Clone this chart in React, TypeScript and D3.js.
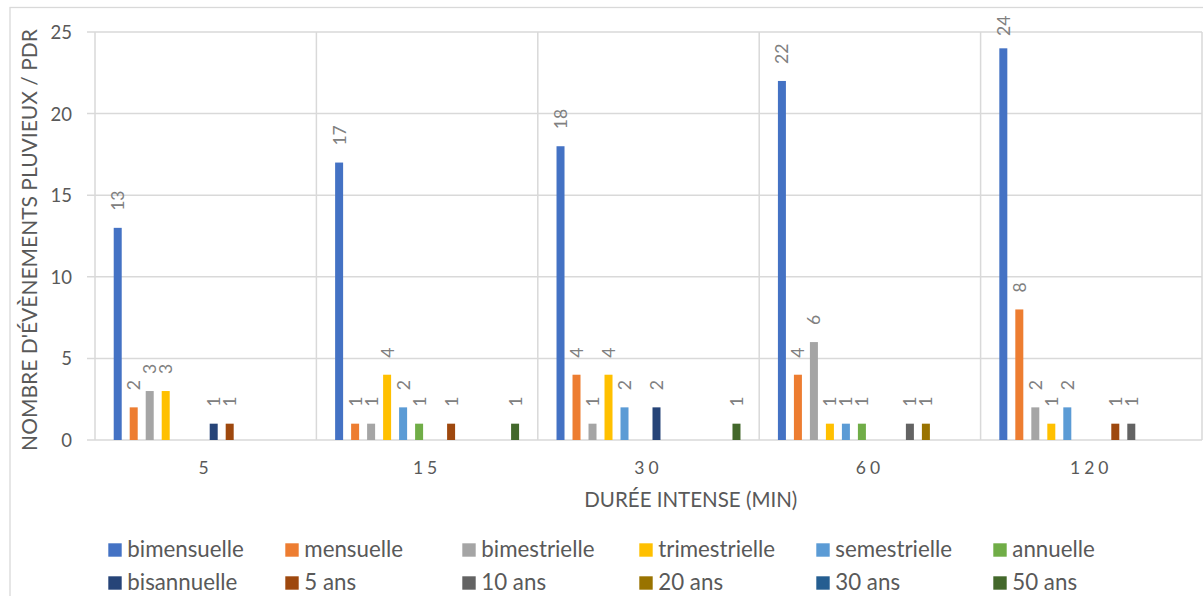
import React from "react";
import * as d3 from "d3";

const categories = ["5", "15", "30", "60", "120"];
const seriesNames = [
  "bimensuelle", "mensuelle", "bimestrielle", "trimestrielle", "semestrielle", "annuelle",
  "bisannuelle", "5 ans", "10 ans", "20 ans", "30 ans", "50 ans",
];
const seriesColors = [
  "#4472C4", "#ED7D31", "#A5A5A5", "#FFC000", "#5B9BD5", "#70AD47",
  "#264478", "#9E480E", "#636363", "#997300", "#255E91", "#43682B",
];
const bimensuelle = [13, 17, 18, 22, 24];
const mensuelle = [2, 1, 4, 4, 8];
const bimestrielle = [3, 1, 1, 6, 2];
const trimestrielle = [3, 4, 4, 1, 1];
const semestrielle = [0, 2, 2, 1, 2];
const annuelle = [0, 1, 0, 1, 0];
const bisannuelle = [1, 0, 2, 0, 0];
const ans5 = [1, 1, 0, 0, 1];
const ans10 = [0, 0, 0, 1, 1];
const ans20 = [0, 0, 0, 1, 0];
const ans30 = [0, 0, 0, 0, 0];
const ans50 = [0, 1, 1, 0, 0];
const seriesValues = [
  bimensuelle, mensuelle, bimestrielle, trimestrielle, semestrielle, annuelle,
  bisannuelle, ans5, ans10, ans20, ans30, ans50,
];
const yTicks = [0, 5, 10, 15, 20, 25];
const yTitle = "NOMBRE D'ÉVÈNEMENTS PLUVIEUX / PDR";
const xTitle = "DURÉE INTENSE (MIN)";

const W = 1203;
const H = 596;
const plot = { left: 95, right: 1202, top: 32, bottom: 440 };
const FONT = "Lato, 'Liberation Sans', sans-serif";
const GRID = "#d9d9d9";

export default function App() {
  const x0 = d3.scaleBand<string>().domain(categories).range([plot.left, plot.right]).padding(0);
  const x1 = d3
    .scaleBand<string>()
    .domain(seriesNames)
    .range([0, x0.bandwidth()])
    .paddingInner(0.5)
    .paddingOuter(1.17);
  const y = d3.scaleLinear().domain([0, 25]).range([plot.bottom, plot.top]);

  const groupEdges = categories.map((c) => x0(c) as number).concat([plot.right]);

  const legendCols = [108.3, 285.3, 462.3, 639.3, 816.3, 993.3];
  const legendRows = [550, 583];

  return (
    <svg
      width={W}
      height={H}
      style={{ position: "absolute", left: 0, top: 0, background: "#fff" }}
      fontFamily={FONT}
    >
      <rect x={10} y={7.5} width={W + 20} height={H + 20} fill="#fff" stroke={GRID} strokeWidth={1.3} />

      {/* horizontal gridlines */}
      {yTicks.map((t) => (
        <line key={"h" + t} x1={87} x2={plot.right} y1={y(t)} y2={y(t)} stroke={GRID} strokeWidth={1.5} />
      ))}
      {/* vertical gridlines */}
      {groupEdges.map((gx, i) => (
        <line key={"v" + i} x1={gx} x2={gx} y1={plot.top} y2={plot.bottom} stroke={GRID} strokeWidth={1.5} />
      ))}

      {/* y tick labels */}
      {yTicks.map((t) => (
        <text
          key={"yt" + t}
          x={72}
          y={y(t)}
          textAnchor="end"
          dominantBaseline="central"
          fontSize={18.5}
          fill="#595959"
        >
          {t}
        </text>
      ))}

      {/* bars */}
      {categories.map((c, ci) =>
        seriesNames.map((s, si) => {
          const v = seriesValues[si][ci];
          if (!v) return null;
          const bx = (x0(c) as number) + (x1(s) as number);
          return (
            <rect
              key={c + s}
              x={bx}
              y={y(v)}
              width={x1.bandwidth()}
              height={y(0) - y(v)}
              fill={seriesColors[si]}
            />
          );
        })
      )}

      {/* data labels */}
      {categories.map((c, ci) =>
        seriesNames.map((s, si) => {
          const v = seriesValues[si][ci];
          if (!v) return null;
          const cx = (x0(c) as number) + (x1(s) as number) + x1.bandwidth() / 2;
          const ay = Math.max(y(v) - 17, 36);
          return (
            <text
              key={"l" + c + s}
              transform={`translate(${cx},${ay}) rotate(-90)`}
              textAnchor="start"
              dominantBaseline="central"
              fontSize={17.5}
              fill="#808080"
            >
              {v}
            </text>
          );
        })
      )}

      {/* category labels */}
      {categories.map((c) => (
        <text
          key={"c" + c}
          x={(x0(c) as number) + x0.bandwidth() / 2}
          y={474}
          textAnchor="middle"
          fontSize={17.5}
          letterSpacing={4}
          fill="#595959"
        >
          {c}
        </text>
      ))}

      {/* axis titles */}
      <text x={690.8} y={507} textAnchor="middle" fontSize={20.5} fill="#595959">
        {xTitle}
      </text>
      <text
        transform={`translate(36.5,240) rotate(-90)`}
        textAnchor="middle"
        fontSize={21}
        fill="#595959"
      >
        {yTitle}
      </text>

      {/* legend */}
      {seriesNames.map((s, i) => {
        const col = i % 6;
        const row = Math.floor(i / 6);
        const lx = legendCols[col];
        const ly = legendRows[row];
        return (
          <g key={"lg" + s}>
            <rect x={lx} y={ly - 6.7} width={13.4} height={13.4} fill={seriesColors[i]} />
            <text x={lx + 19} y={ly + 7} fontSize={22.3} fill="#595959">
              {s}
            </text>
          </g>
        );
      })}
    </svg>
  );
}
